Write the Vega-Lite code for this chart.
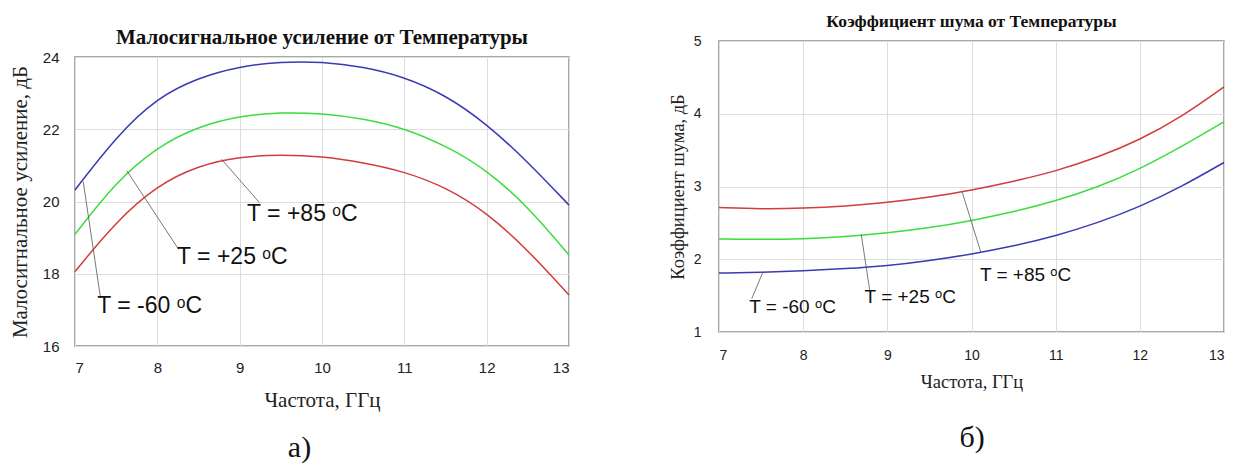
{
  "$schema": "https://vega.github.io/schema/vega-lite/v6.json",
  "background": "white",
  "padding": {"top": 4, "left": 8, "right": 5, "bottom": 0},
  "spacing": 94,
  "datasets": {
    "gain": [
      {"f": 7.0, "t": "-60", "v": 20.32}, {"f": 7.0, "t": "+25", "v": 19.09}, {"f": 7.0, "t": "+85", "v": 18.06},
      {"f": 7.5, "t": "-60", "v": 21.8}, {"f": 7.5, "t": "+25", "v": 20.55}, {"f": 7.5, "t": "+85", "v": 19.45},
      {"f": 8.0, "t": "-60", "v": 22.88}, {"f": 8.0, "t": "+25", "v": 21.52}, {"f": 8.0, "t": "+85", "v": 20.45},
      {"f": 8.5, "t": "-60", "v": 23.43}, {"f": 8.5, "t": "+25", "v": 22.08}, {"f": 8.5, "t": "+85", "v": 21.0},
      {"f": 9.0, "t": "-60", "v": 23.74}, {"f": 9.0, "t": "+25", "v": 22.37}, {"f": 9.0, "t": "+85", "v": 21.24},
      {"f": 9.5, "t": "-60", "v": 23.87}, {"f": 9.5, "t": "+25", "v": 22.47}, {"f": 9.5, "t": "+85", "v": 21.3},
      {"f": 10.0, "t": "-60", "v": 23.87}, {"f": 10.0, "t": "+25", "v": 22.44}, {"f": 10.0, "t": "+85", "v": 21.25},
      {"f": 10.5, "t": "-60", "v": 23.73}, {"f": 10.5, "t": "+25", "v": 22.3}, {"f": 10.5, "t": "+85", "v": 21.08},
      {"f": 11.0, "t": "-60", "v": 23.45}, {"f": 11.0, "t": "+25", "v": 22.03}, {"f": 11.0, "t": "+85", "v": 20.83},
      {"f": 11.5, "t": "-60", "v": 22.95}, {"f": 11.5, "t": "+25", "v": 21.55}, {"f": 11.5, "t": "+85", "v": 20.4},
      {"f": 12.0, "t": "-60", "v": 22.15}, {"f": 12.0, "t": "+25", "v": 20.88}, {"f": 12.0, "t": "+85", "v": 19.7},
      {"f": 12.5, "t": "-60", "v": 21.1}, {"f": 12.5, "t": "+25", "v": 19.86}, {"f": 12.5, "t": "+85", "v": 18.66},
      {"f": 13.0, "t": "-60", "v": 19.9}, {"f": 13.0, "t": "+25", "v": 18.52}, {"f": 13.0, "t": "+85", "v": 17.41}
    ],
    "nf": [
      {"f": 7.0, "t": "-60", "v": 1.81}, {"f": 7.0, "t": "+25", "v": 2.28}, {"f": 7.0, "t": "+85", "v": 2.71},
      {"f": 7.5, "t": "-60", "v": 1.82}, {"f": 7.5, "t": "+25", "v": 2.27}, {"f": 7.5, "t": "+85", "v": 2.69},
      {"f": 8.0, "t": "-60", "v": 1.84}, {"f": 8.0, "t": "+25", "v": 2.28}, {"f": 8.0, "t": "+85", "v": 2.7},
      {"f": 8.5, "t": "-60", "v": 1.87}, {"f": 8.5, "t": "+25", "v": 2.31}, {"f": 8.5, "t": "+85", "v": 2.73},
      {"f": 9.0, "t": "-60", "v": 1.91}, {"f": 9.0, "t": "+25", "v": 2.36}, {"f": 9.0, "t": "+85", "v": 2.78},
      {"f": 9.5, "t": "-60", "v": 1.98}, {"f": 9.5, "t": "+25", "v": 2.43}, {"f": 9.5, "t": "+85", "v": 2.85},
      {"f": 10.0, "t": "-60", "v": 2.07}, {"f": 10.0, "t": "+25", "v": 2.53}, {"f": 10.0, "t": "+85", "v": 2.95},
      {"f": 10.5, "t": "-60", "v": 2.18}, {"f": 10.5, "t": "+25", "v": 2.65}, {"f": 10.5, "t": "+85", "v": 3.07},
      {"f": 11.0, "t": "-60", "v": 2.32}, {"f": 11.0, "t": "+25", "v": 2.8}, {"f": 11.0, "t": "+85", "v": 3.21},
      {"f": 11.5, "t": "-60", "v": 2.5}, {"f": 11.5, "t": "+25", "v": 2.99}, {"f": 11.5, "t": "+85", "v": 3.4},
      {"f": 12.0, "t": "-60", "v": 2.72}, {"f": 12.0, "t": "+25", "v": 3.24}, {"f": 12.0, "t": "+85", "v": 3.64},
      {"f": 12.5, "t": "-60", "v": 3.0}, {"f": 12.5, "t": "+25", "v": 3.55}, {"f": 12.5, "t": "+85", "v": 3.96},
      {"f": 13.0, "t": "-60", "v": 3.33}, {"f": 13.0, "t": "+25", "v": 3.89}, {"f": 13.0, "t": "+85", "v": 4.37}
    ],
    "gainLab": [
      {"label": "T = +85 ᵒC", "tx": 9.09, "ty": 19.66, "x1": 8.78, "y1": 21.17, "x2": 9.24, "y2": 19.97},
      {"label": "T = +25 ᵒC", "tx": 8.24, "ty": 18.45, "x1": 7.63, "y1": 20.85, "x2": 8.26, "y2": 18.67},
      {"label": "T = -60 ᵒC", "tx": 7.27, "ty": 17.12, "x1": 7.1, "y1": 20.55, "x2": 7.31, "y2": 17.33}
    ],
    "nfLab": [
      {"label": "T = -60 ᵒC", "tx": 7.36, "ty": 1.34, "x1": 7.52, "y1": 1.82, "x2": 7.39, "y2": 1.46},
      {"label": "T = +25 ᵒC", "tx": 8.73, "ty": 1.48, "x1": 8.69, "y1": 2.34, "x2": 8.79, "y2": 1.58},
      {"label": "T = +85 ᵒC", "tx": 10.1, "ty": 1.78, "x1": 9.89, "y1": 2.92, "x2": 10.11, "y2": 2.1}
    ],
    "blank": [{"k": 0}]
  },
  "config": {
    "view": {"stroke": "#8c8c8c", "strokeWidth": 1.5},
    "axis": {"domain": false, "ticks": false, "gridColor": "#dddddd", "labelColor": "#222222", "titleColor": "#222222", "titleFontWeight": "normal"},
    "title": {"color": "#111111", "font": "Liberation Serif", "fontWeight": "bold"}
  },
  "hconcat": [
    {
      "spacing": 0,
      "vconcat": [
        {
          "width": 1, "height": 1, "view": {"stroke": null},
          "data": {"name": "blank"},
          "mark": {"type": "point", "opacity": 0}
        },
        {
          "width": 494,
          "height": 289,
          "title": {"text": ["", "Малосигнальное усиление от Температуры"], "fontSize": 21, "lineHeight": 14.5, "offset": 2},
          "layer": [
            {
              "data": {"name": "gain"},
              "mark": {"type": "line", "interpolate": "basis", "strokeWidth": 1.5},
              "encoding": {
                "x": {"field": "f", "type": "quantitative", "scale": {"domain": [7, 13], "nice": false},
                  "axis": {"orient": "bottom", "values": [7, 8, 9, 10, 11, 12, 13], "grid": true, "labelFont": "Liberation Sans", "labelFontSize": 15, "labelPadding": 14,
                    "title": "Частота, ГГц", "titleFont": "Liberation Serif", "titleFontSize": 21, "titlePadding": 14}},
                "y": {"field": "v", "type": "quantitative", "scale": {"domain": [16, 24], "nice": false},
                  "axis": {"values": [16, 18, 20, 22, 24], "format": "d", "grid": true, "labelFont": "Liberation Sans", "labelFontSize": 15, "labelPadding": 16,
                    "title": "Малосигнальное усиление, дБ", "titleFont": "Liberation Serif", "titleFontSize": 21, "titlePadding": 12}},
                "color": {"field": "t", "type": "nominal", "scale": {"domain": ["-60", "+25", "+85"], "range": ["#3a3ab4", "#3ddc3d", "#d23c3c"]}, "legend": null}
              }
            },
            {
              "data": {"name": "gainLab"},
              "mark": {"type": "rule", "color": "#555555", "strokeWidth": 0.8},
              "encoding": {
                "x": {"field": "x1", "type": "quantitative", "axis": null},
                "y": {"field": "y1", "type": "quantitative"},
                "x2": {"field": "x2"},
                "y2": {"field": "y2"}
              }
            },
            {
              "data": {"name": "gainLab"},
              "mark": {"type": "text", "align": "left", "baseline": "middle", "font": "Liberation Sans", "fontSize": 23, "color": "#111111"},
              "encoding": {
                "x": {"field": "tx", "type": "quantitative",
                  "axis": {"orient": "bottom", "offset": 68, "grid": false, "labels": false, "title": "а)", "titleFont": "Liberation Serif", "titleFontSize": 30, "titlePadding": 18, "titleX": 224, "titleColor": "#111111"}},
                "y": {"field": "ty", "type": "quantitative"},
                "text": {"field": "label"}
              }
            }
          ],
          "resolve": {"axis": {"x": "independent"}}
        }
      ]
    },
    {
      "spacing": 0,
      "vconcat": [
        {
          "width": 1, "height": 1, "view": {"stroke": null},
          "data": {"name": "blank"},
          "mark": {"type": "point", "opacity": 0}
        },
        {
          "width": 505,
          "height": 291,
          "title": {"text": "Коэффициент шума от Температуры", "fontSize": 17.5, "offset": 4},
          "layer": [
            {
              "data": {"name": "nf"},
              "mark": {"type": "line", "interpolate": "basis", "strokeWidth": 1.5},
              "encoding": {
                "x": {"field": "f", "type": "quantitative", "scale": {"domain": [7, 13], "nice": false},
                  "axis": {"orient": "bottom", "values": [7, 8, 9, 10, 11, 12, 13], "grid": true, "labelFont": "Liberation Sans", "labelFontSize": 14, "labelPadding": 16,
                    "title": "Частота, ГГц", "titleFont": "Liberation Serif", "titleFontSize": 18.5, "titlePadding": 10}},
                "y": {"field": "v", "type": "quantitative", "scale": {"domain": [1, 5], "nice": false},
                  "axis": {"values": [1, 2, 3, 4, 5], "format": "d", "grid": true, "labelFont": "Liberation Sans", "labelFontSize": 14, "labelPadding": 18,
                    "title": "Коэффициент шума, дБ", "titleFont": "Liberation Serif", "titleFontSize": 18.5, "titlePadding": 6}},
                "color": {"field": "t", "type": "nominal", "scale": {"domain": ["-60", "+25", "+85"], "range": ["#3a3ab4", "#3ddc3d", "#d23c3c"]}, "legend": null}
              }
            },
            {
              "data": {"name": "nfLab"},
              "mark": {"type": "rule", "color": "#555555", "strokeWidth": 0.8},
              "encoding": {
                "x": {"field": "x1", "type": "quantitative", "axis": null},
                "y": {"field": "y1", "type": "quantitative"},
                "x2": {"field": "x2"},
                "y2": {"field": "y2"}
              }
            },
            {
              "data": {"name": "nfLab"},
              "mark": {"type": "text", "align": "left", "baseline": "middle", "font": "Liberation Sans", "fontSize": 19, "color": "#111111"},
              "encoding": {
                "x": {"field": "tx", "type": "quantitative",
                  "axis": {"orient": "bottom", "offset": 70, "grid": false, "labels": false, "title": "б)", "titleFont": "Liberation Serif", "titleFontSize": 30, "titlePadding": 20, "titleColor": "#111111"}},
                "y": {"field": "ty", "type": "quantitative"},
                "text": {"field": "label"}
              }
            }
          ],
          "resolve": {"axis": {"x": "independent"}}
        }
      ]
    }
  ]
}
